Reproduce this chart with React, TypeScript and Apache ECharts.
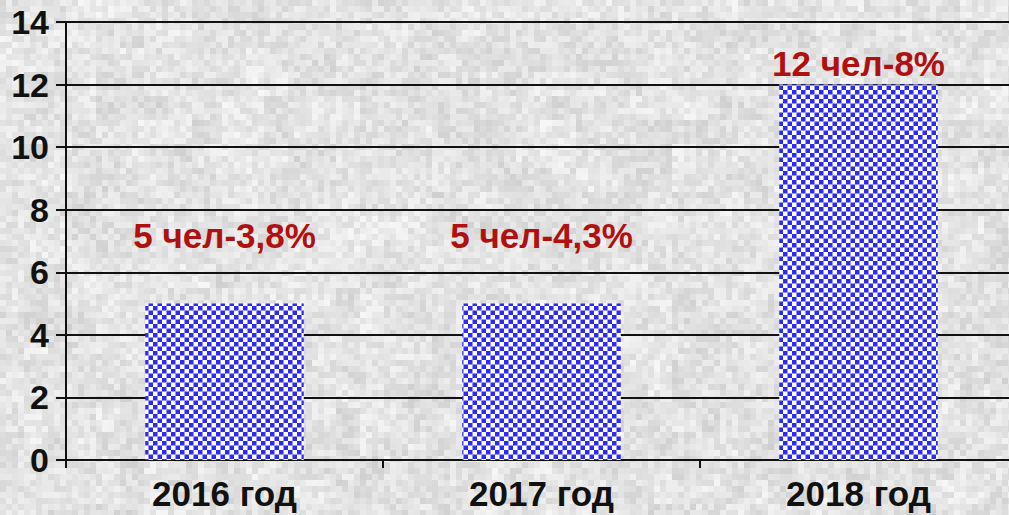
import React, { useEffect, useRef } from "react";
import * as echarts from "echarts";

const categories = ["2016 год", "2017 год", "2018 год"];
const values = [5, 5, 12];
const labels = ["5 чел-3,8%", "5 чел-4,3%", "12 чел-8%"];
const yTicks = { min: 0, max: 14, interval: 2 };

const labelDistances = [51, 51, 4];

function makeChecker(): HTMLCanvasElement {
  const c = document.createElement("canvas");
  const cell = 4.5;
  c.width = 9;
  c.height = 9;
  const ctx = c.getContext("2d")!;
  ctx.fillStyle = "#ffffff";
  ctx.fillRect(0, 0, 9, 9);
  ctx.fillStyle = "#2b2bf2";
  ctx.fillRect(0, 0, cell, cell);
  ctx.fillRect(cell, cell, cell, cell);
  return c;
}

function makeTexture(w: number, h: number): string {
  const c = document.createElement("canvas");
  c.width = w;
  c.height = h;
  const ctx = c.getContext("2d")!;
  const hash = (x: number, y: number) => {
    const s = Math.sin(x * 12.9898 + y * 78.233) * 43758.5453;
    return s - Math.floor(s);
  };
  const cs = 6;
  for (let y = 0; y < h; y += cs) {
    for (let x = 0; x < w; x += cs) {
      const a = hash(x / cs, y / cs);
      const b = hash(Math.floor(x / 24), Math.floor(y / 24) + 1000);
      const g = Math.round(214 + a * 26 + (b - 0.5) * 14);
      ctx.fillStyle = `rgb(${g},${g},${g})`;
      ctx.fillRect(x, y, cs, cs);
    }
  }
  return c.toDataURL();
}

export default function App() {
  const ref = useRef<HTMLDivElement>(null);
  useEffect(() => {
    document.body.style.margin = "0";
    const el = ref.current!;
    el.style.backgroundImage = `url(${makeTexture(1009, 515)})`;
    const chart = echarts.init(el, undefined, { renderer: "svg" });
    const font = "'Liberation Sans', Arial, sans-serif";
    chart.setOption({
      animation: false,
      backgroundColor: "transparent",
      grid: {
        left: 66,
        width: 951,
        top: 22,
        bottom: 55,
        containLabel: false,
        outerBoundsMode: "none",
      },
      xAxis: {
        type: "category",
        data: categories,
        axisLine: { show: true, lineStyle: { color: "#111", width: 2 } },
        axisTick: { show: true, length: 8, lineStyle: { color: "#111", width: 2 } },
        axisLabel: {
          color: "#111",
          fontFamily: font,
          fontWeight: "bold",
          fontSize: 35,
          margin: 16,
        },
        splitLine: { show: false },
      },
      yAxis: {
        type: "value",
        min: yTicks.min,
        max: yTicks.max,
        interval: yTicks.interval,
        axisLine: { show: true, lineStyle: { color: "#111", width: 2 } },
        axisTick: { show: true, length: 10, lineStyle: { color: "#111", width: 2 } },
        axisLabel: {
          color: "#111",
          fontFamily: font,
          fontWeight: "bold",
          fontSize: 34,
          margin: 17,
        },
        splitLine: { show: true, lineStyle: { color: "#111", width: 2 } },
      },
      series: [
        {
          type: "bar",
          barWidth: "50%",
          itemStyle: { color: { image: makeChecker(), repeat: "repeat" } as any },
          data: values.map((v, i) => ({
            value: v,
            label: {
              show: true,
              position: "top",
              distance: labelDistances[i],
              formatter: labels[i],
              color: "#b01010",
              fontFamily: font,
              fontWeight: "bold",
              fontSize: 35,
            },
          })),
        },
      ],
    });
    return () => chart.dispose();
  }, []);
  return <div ref={ref} style={{ width: 1009, height: 515 }} />;
}
